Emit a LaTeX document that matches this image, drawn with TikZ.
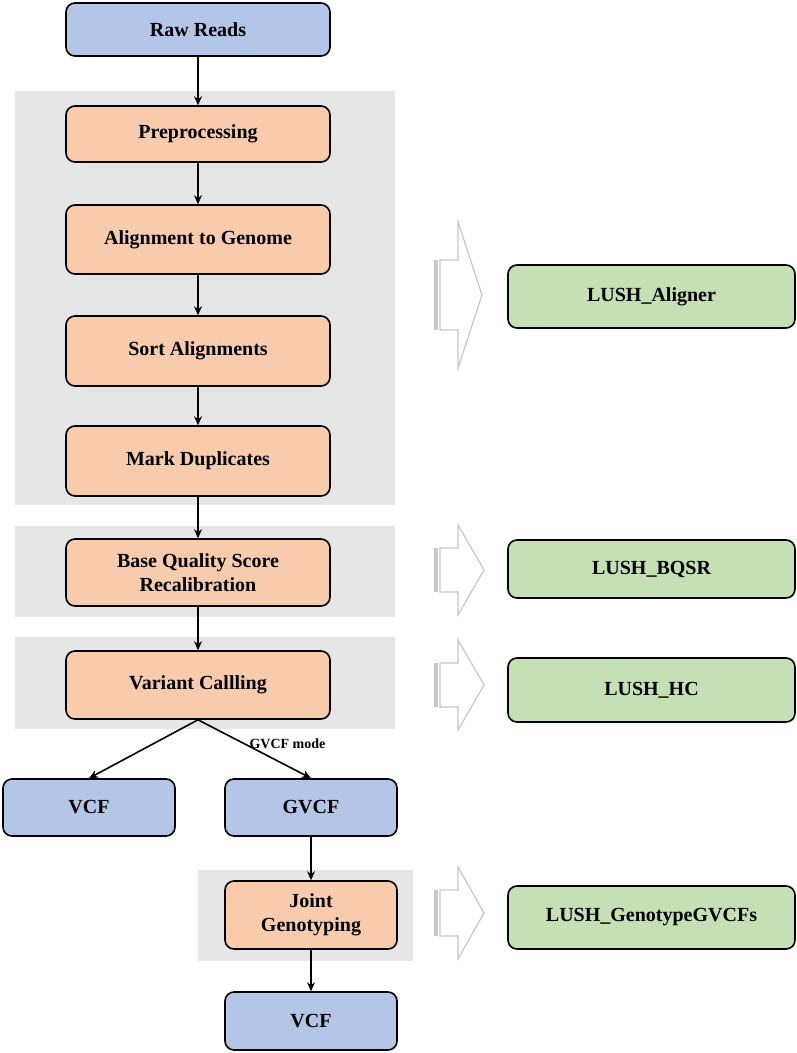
\documentclass[tikz,border=0pt]{standalone}
\usepackage{fontspec}
\setmainfont{Liberation Serif}
\usetikzlibrary{arrows.meta}
\definecolor{blu}{HTML}{B4C6E7}
\definecolor{ora}{HTML}{F8CBAD}
\definecolor{grn}{HTML}{C5E0B4}
\definecolor{gry}{HTML}{E7E6E6}
\begin{document}
\begin{tikzpicture}[x=1pt,y=-1pt,
  box/.style={draw=black,line width=1.6pt,rounded corners=9pt,inner sep=0pt,align=center,font=\fontsize{20}{24}\selectfont\bfseries},
  bg/.style={fill=gry},
  arr/.style={-{Stealth[length=9pt,width=8pt]},line width=1.6pt},
  hol/.style={draw=black!22,line width=1.2pt,fill=white}]
\useasboundingbox (0,0) rectangle (797,1053);
\fill[bg] (15,91) rectangle (395,505);
\fill[bg] (15,526) rectangle (395,617);
\fill[bg] (15,637) rectangle (395,729);
\fill[bg] (198,870) rectangle (413,961);
\newcommand{\bx}[6]{\node[box,fill=#2,minimum width=#5-#3,minimum height=#6-#4] (#1) at ({(#3+#5)/2},{(#4+#6)/2}) {#1text};}
\node[box,fill=blu,minimum width=264,minimum height=53] (raw) at (198,29.5) {Raw Reads};
\node[box,fill=ora,minimum width=264,minimum height=56] (pre) at (198,134) {Preprocessing};
\node[box,fill=ora,minimum width=264,minimum height=69] (ali) at (198,239.5) {Alignment to Genome};
\node[box,fill=ora,minimum width=264,minimum height=70] (sor) at (198,351) {Sort Alignments};
\node[box,fill=ora,minimum width=264,minimum height=70] (mar) at (198,461) {Mark Duplicates};
\node[box,fill=ora,minimum width=264,minimum height=67] (bqs) at (198,572.5) {Base Quality Score\\Recalibration};
\node[box,fill=ora,minimum width=264,minimum height=68] (var) at (198,685) {Variant Callling};
\node[box,fill=blu,minimum width=172,minimum height=57] (vcf1) at (89,807.5) {VCF};
\node[box,fill=blu,minimum width=172,minimum height=57] (gvcf) at (311,807.5) {GVCF};
\node[box,fill=ora,minimum width=172,minimum height=68] (joi) at (311,915) {Joint\\Genotyping};
\node[box,fill=blu,minimum width=172,minimum height=58] (vcf2) at (311,1021) {VCF};
\node[box,fill=grn,minimum width=287,minimum height=63] (g1) at (651.5,296.5) {LUSH\_Aligner};
\node[box,fill=grn,minimum width=287,minimum height=58] (g2) at (651.5,569) {LUSH\_BQSR};
\node[box,fill=grn,minimum width=287,minimum height=64] (g3) at (651.5,690) {LUSH\_HC};
\node[box,fill=grn,minimum width=287,minimum height=63] (g4) at (651.5,917.5) {LUSH\_GenotypeGVCFs};
\draw[arr] (raw) -- (pre);
\draw[arr] (pre) -- (ali);
\draw[arr] (ali) -- (sor);
\draw[arr] (sor) -- (mar);
\draw[arr] (mar) -- (bqs);
\draw[arr] (bqs) -- (var);
\draw[arr] (var.south) -- (vcf1.north);
\draw[arr] (var.south) -- (gvcf.north);
\draw[arr] (gvcf) -- (joi);
\draw[arr] (joi) -- (vcf2);
\node[font=\fontsize{14}{16}\selectfont\bfseries,anchor=south west] (gm) at (246,752) {GVCF mode};
% hollow arrows: cy = center, h = half head height, s = half shaft height
\foreach \cy/\h/\s/\tip in {295/73/35/482, 570/45/22/484, 685/45/22/484, 913/46/23/484}{
  \draw[hol] (440,\cy-\s) -- (458,\cy-\s) -- (458,\cy-\h) -- (\tip,\cy) -- (458,\cy+\h) -- (458,\cy+\s) -- (440,\cy+\s) -- cycle;
  \fill[black!22] (434,\cy-\s) rectangle (438,\cy+\s);
}
\end{tikzpicture}
\end{document}
